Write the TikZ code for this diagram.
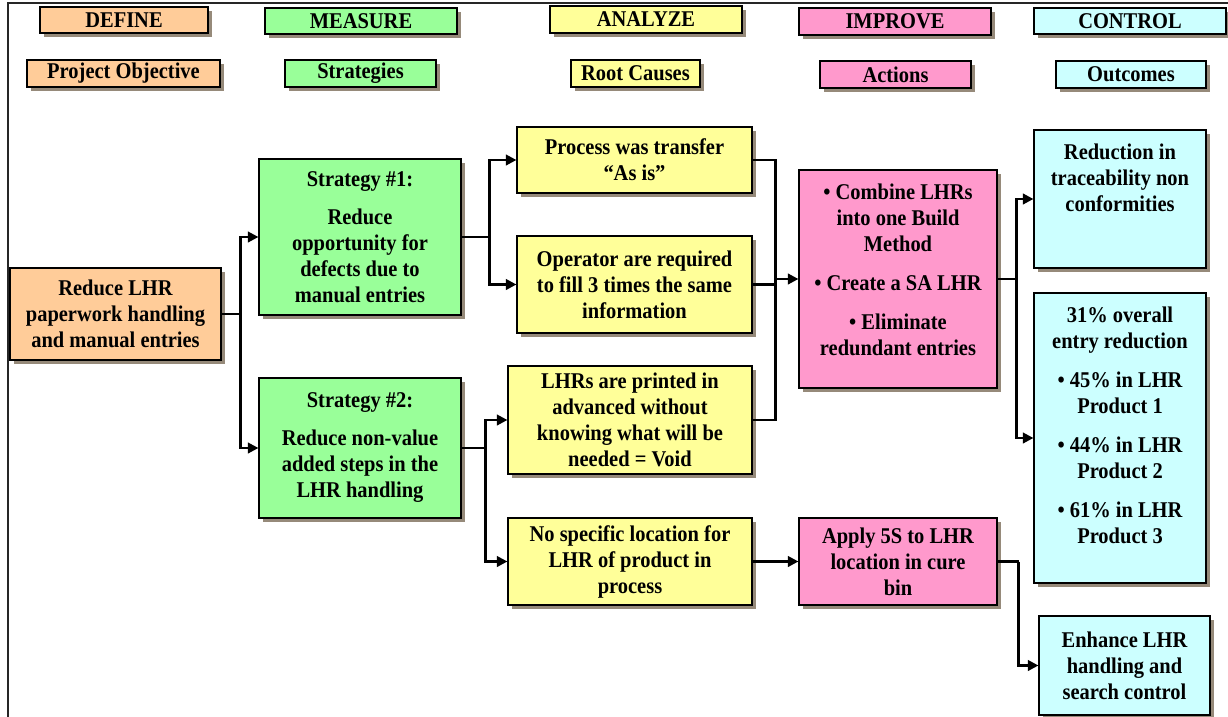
\documentclass[tikz,border=0pt]{standalone}
\usepackage{fontspec}
\setmainfont{Liberation Serif}
% slightly narrowed serif so that glyphs stand a little taller
\newfontfamily\boxfont{Liberation Serif}[FakeStretch=0.91]
\usetikzlibrary{arrows.meta,shadows}

\definecolor{peach}{HTML}{FFCC99}
\definecolor{mint}{HTML}{99FF99}
\definecolor{lemon}{HTML}{FFFF99}
\definecolor{rose}{HTML}{FF99CC}
\definecolor{ice}{HTML}{CCFFFF}
\definecolor{shadowc}{RGB}{150,138,122}

% text block hung from the top of a box of given height and width
\newcommand\topcell[3]{\parbox[c][#1][t]{#2}{\centering\vspace*{14pt}#3}}

\tikzset{
  boxfontsty/.style={font=\boxfont\bfseries\fontsize{22.5}{26}\selectfont},
  box/.style={draw=black, line width=1.2pt, inner sep=0pt, align=center, boxfontsty,
    drop shadow={shadow xshift=4pt, shadow yshift=-4pt, fill=shadowc, opacity=1}},
  tbox/.style={draw=black, line width=1.2pt, inner sep=0pt, boxfontsty,
    drop shadow={shadow xshift=4pt, shadow yshift=-4pt, fill=shadowc, opacity=1}},
  wire/.style={line width=2.4pt, black},
  arr/.style={line width=2.4pt, black, -{Triangle[length=10.5pt,width=10.5pt]}},
}

\begin{document}
\begin{tikzpicture}[x=1pt, y=-1pt]
\useasboundingbox (0,0) rectangle (1228,717);

% outer frame (top and left edges)
\draw[black!85, line width=2.6pt] (8,717) -- (8,3) -- (1228,3);

% phase headers
\node[box, fill=peach, minimum width=168pt, minimum height=26pt] (hdef) at (124,20) {DEFINE};
\node[box, fill=mint,  minimum width=192pt, minimum height=26pt] (hmea) at (361,21) {MEASURE};
\node[box, fill=lemon, minimum width=192pt, minimum height=27pt] (hana) at (646,19.5) {ANALYZE};
\node[box, fill=rose,  minimum width=192pt, minimum height=27pt] (himp) at (895,21.5) {IMPROVE};
\node[box, fill=ice,   minimum width=192pt, minimum height=26pt] (hcon) at (1130,21) {CONTROL};

% column titles
\node[box, fill=peach, minimum width=193pt, minimum height=27pt] (tpo)  at (123.5,73.5) {Project Objective};
\node[box, fill=mint,  minimum width=151pt, minimum height=27pt] (tstr) at (360.5,73.5) {Strategies};
\node[box, fill=lemon, minimum width=129pt, minimum height=27pt] (trc)  at (635.5,73.5) {Root Causes};
\node[box, fill=rose,  minimum width=151pt, minimum height=27pt] (tact) at (895.5,74.5) {Actions};
\node[box, fill=ice,   minimum width=150pt, minimum height=27pt] (tout) at (1131,74.5) {Outcomes};

% objective
\node[box, fill=peach, minimum width=211pt, minimum height=92pt] (obj) at (115.5,314)
  {Reduce LHR\\paperwork handling\\and manual entries};

% strategies
\node[box, fill=mint, minimum width=202pt, minimum height=156pt] (s1) at (360,237)
  {Strategy \#1:\\[12pt]Reduce\\opportunity for\\defects due to\\manual entries};
\node[box, fill=mint, minimum width=202pt, minimum height=140pt] (s2) at (360,448)
  {Strategy \#2:\\[12pt]Reduce non-value\\added steps in the\\LHR handling};

% root causes
\node[box, fill=lemon, minimum width=235pt, minimum height=66pt] (proc) at (634.5,160)
  {Process was transfer\\“As is”};
\node[box, fill=lemon, minimum width=235pt, minimum height=97pt] (oper) at (634.5,284.5)
  {Operator are required\\to fill 3 times the same\\information};
\node[box, fill=lemon, minimum width=244pt, minimum height=108pt] (lhrs) at (630,420)
  {LHRs are printed in\\advanced without\\knowing what will be\\needed = Void};
\node[box, fill=lemon, minimum width=244pt, minimum height=87pt] (nosp) at (630,561.5)
  {No specific location for\\LHR of product in\\process};

% actions
\node[tbox, fill=rose] (comb) at (898,279)
  {\topcell{218pt}{198pt}{• Combine LHRs\\into one Build\\Method\\[13pt]• Create a SA LHR\\[13pt]• Eliminate\\redundant entries}};
\node[box, fill=rose, minimum width=198pt, minimum height=87pt] (appl) at (898,561.5)
  {Apply 5S to LHR\\location in cure\\bin};

% outcomes
\node[tbox, fill=ice] (red) at (1120,199)
  {\topcell{138pt}{172pt}{Reduction in\\traceability non\\conformities}};
\node[tbox, fill=ice] (pct) at (1120,438)
  {\topcell{290pt}{172pt}{31\% overall\\entry reduction\\[13pt]• 45\% in LHR\\Product 1\\[13pt]• 44\% in LHR\\Product 2\\[13pt]• 61\% in LHR\\Product 3}};
\node[box, fill=ice, minimum width=171pt, minimum height=99pt] (enh) at (1124.5,665.5)
  {Enhance LHR\\handling and\\search control};

% objective -> strategies
\draw[wire] (obj.east) -- ++(19,0) coordinate (j1);
\draw[arr] (j1) |- (s1.west);
\draw[arr] (j1) |- (s2.west);

% strategy 1 -> root causes
\draw[wire] (s1.east) -- ++(28,0) coordinate (j2);
\draw[arr] (j2) |- (proc.west);
\draw[arr] (j2) |- (oper.west);

% strategy 2 -> root causes
\draw[wire] (s2.east) -- ++(24,0) coordinate (j3);
\draw[arr] (j3) |- (lhrs.west);
\draw[arr] (j3) |- (nosp.west);

% three root causes merge into the combined action
\path (comb.west) ++(-23,0) coordinate (m);
\draw[wire] (proc.east) -| (m);
\draw[wire] (lhrs.east) -| (m);
\draw[wire] (oper.east) -- (oper.east -| m);
\draw[arr] (m) -- (comb.west);

% location cause -> 5S action
\draw[arr] (nosp.east) -- (appl.west);

% combined action -> outcomes
\draw[wire] (comb.east) -- ++(19,0) coordinate (j5);
\draw[arr] (j5) |- (red.west);
\draw[arr] (j5) |- (pct.west);

% 5S action -> enhanced handling
\draw[wire] (appl.east) -- ++(21,0) coordinate (j6);
\draw[arr] (j6) |- (enh.west);
\end{tikzpicture}
\end{document}
